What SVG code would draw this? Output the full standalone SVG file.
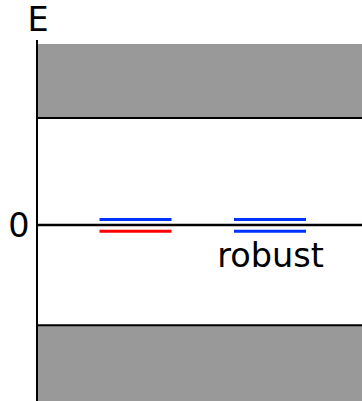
<svg xmlns="http://www.w3.org/2000/svg" width="362" height="401" viewBox="0 0 362 401">
<style>
.band{fill:#999999;stroke:none}
.edge{stroke:#000;stroke-width:2;fill:none}
.lvl{stroke-width:3;fill:none}
.blue{stroke:#0033ff}
.red{stroke:#ff0000}
text{font-family:"DejaVu Sans",sans-serif;font-size:33.5px;fill:#000}
</style>
<rect width="362" height="401" fill="#fff"/>
<g id="bands">
<rect class="band" x="38" y="44" width="324" height="74"/>
<rect class="band" x="38" y="325" width="324" height="76"/>
<line class="edge" x1="38" y1="118" x2="362" y2="118"/>
<line class="edge" x1="38" y1="325.3" x2="362" y2="325.3"/>
</g>
<g id="axis">
<line class="edge" x1="37" y1="40" x2="37" y2="401"/>
<line class="edge" x1="37" y1="225" x2="362" y2="225" style="stroke-width:2.5"/>
<text x="27.5" y="30.7">E</text>
<text x="29.5" y="236.8" text-anchor="end">0</text>
</g>
<g id="levels-left">
<line class="lvl blue" x1="99.5" y1="219.5" x2="171.5" y2="219.5"/>
<line class="lvl red" x1="99.5" y1="231.2" x2="171.5" y2="231.2"/>
</g>
<g id="levels-right">
<line class="lvl blue" x1="234" y1="219.5" x2="306" y2="219.5"/>
<line class="lvl blue" x1="234" y1="231.2" x2="306" y2="231.2"/>
<text x="217.3" y="266.6">robust</text>
</g>
</svg>
